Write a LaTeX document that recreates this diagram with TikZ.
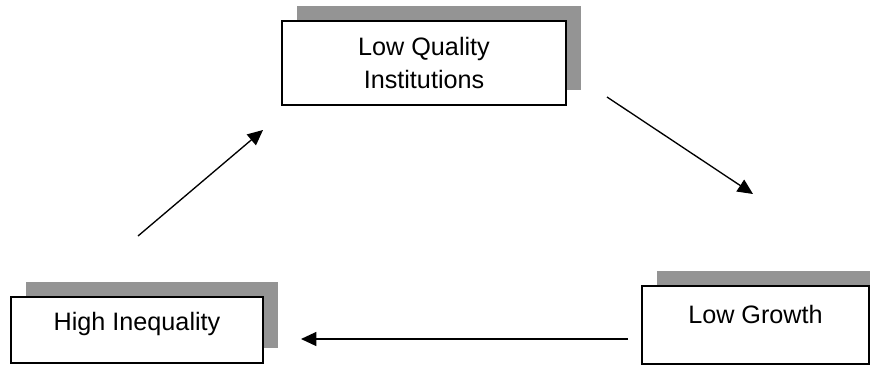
\documentclass[tikz,border=0pt]{standalone}
\usepackage{fontspec}
\setmainfont{Liberation Sans}
\usetikzlibrary{arrows.meta,shadows}

\begin{document}
\begin{tikzpicture}[x=0.75pt,y=-0.75pt,>={Triangle[length=11.5pt,width=10.5pt]},
 box/.style={draw,line width=1.2pt,fill=white,align=center,inner sep=0pt,
  font=\fontsize{18.9pt}{24.75pt}\selectfont,
  drop shadow={shadow xshift=11pt,shadow yshift=11pt,fill=black!42,opacity=1}},
 flow/.style={->,line width=1pt}]
\useasboundingbox (0,0) rectangle (870,365);
\node[box,minimum width=213pt,minimum height=63pt] (quality) at (424,63) {Low Quality\\Institutions};
\node[box,minimum width=170.25pt,minimum height=58.5pt,text height=13.5pt,text depth=16.5pt] (growth) at (755.5,325) {Low Growth};
\node[box,minimum width=189pt,minimum height=49.5pt,text height=13.5pt,text depth=13.5pt] (inequality) at (137,330) {High Inequality};
\coordinate (qg1) at (607,97);\coordinate (qg2) at (753,194);
\coordinate (gi1) at (628,339);\coordinate (gi2) at (301,339);
\coordinate (iq1) at (138,236);\coordinate (iq2) at (263,130);
\draw[flow] (qg1)--(qg2);
\draw[flow] (gi1)--(gi2);
\draw[flow] (iq1)--(iq2);
\end{tikzpicture}
\end{document}
